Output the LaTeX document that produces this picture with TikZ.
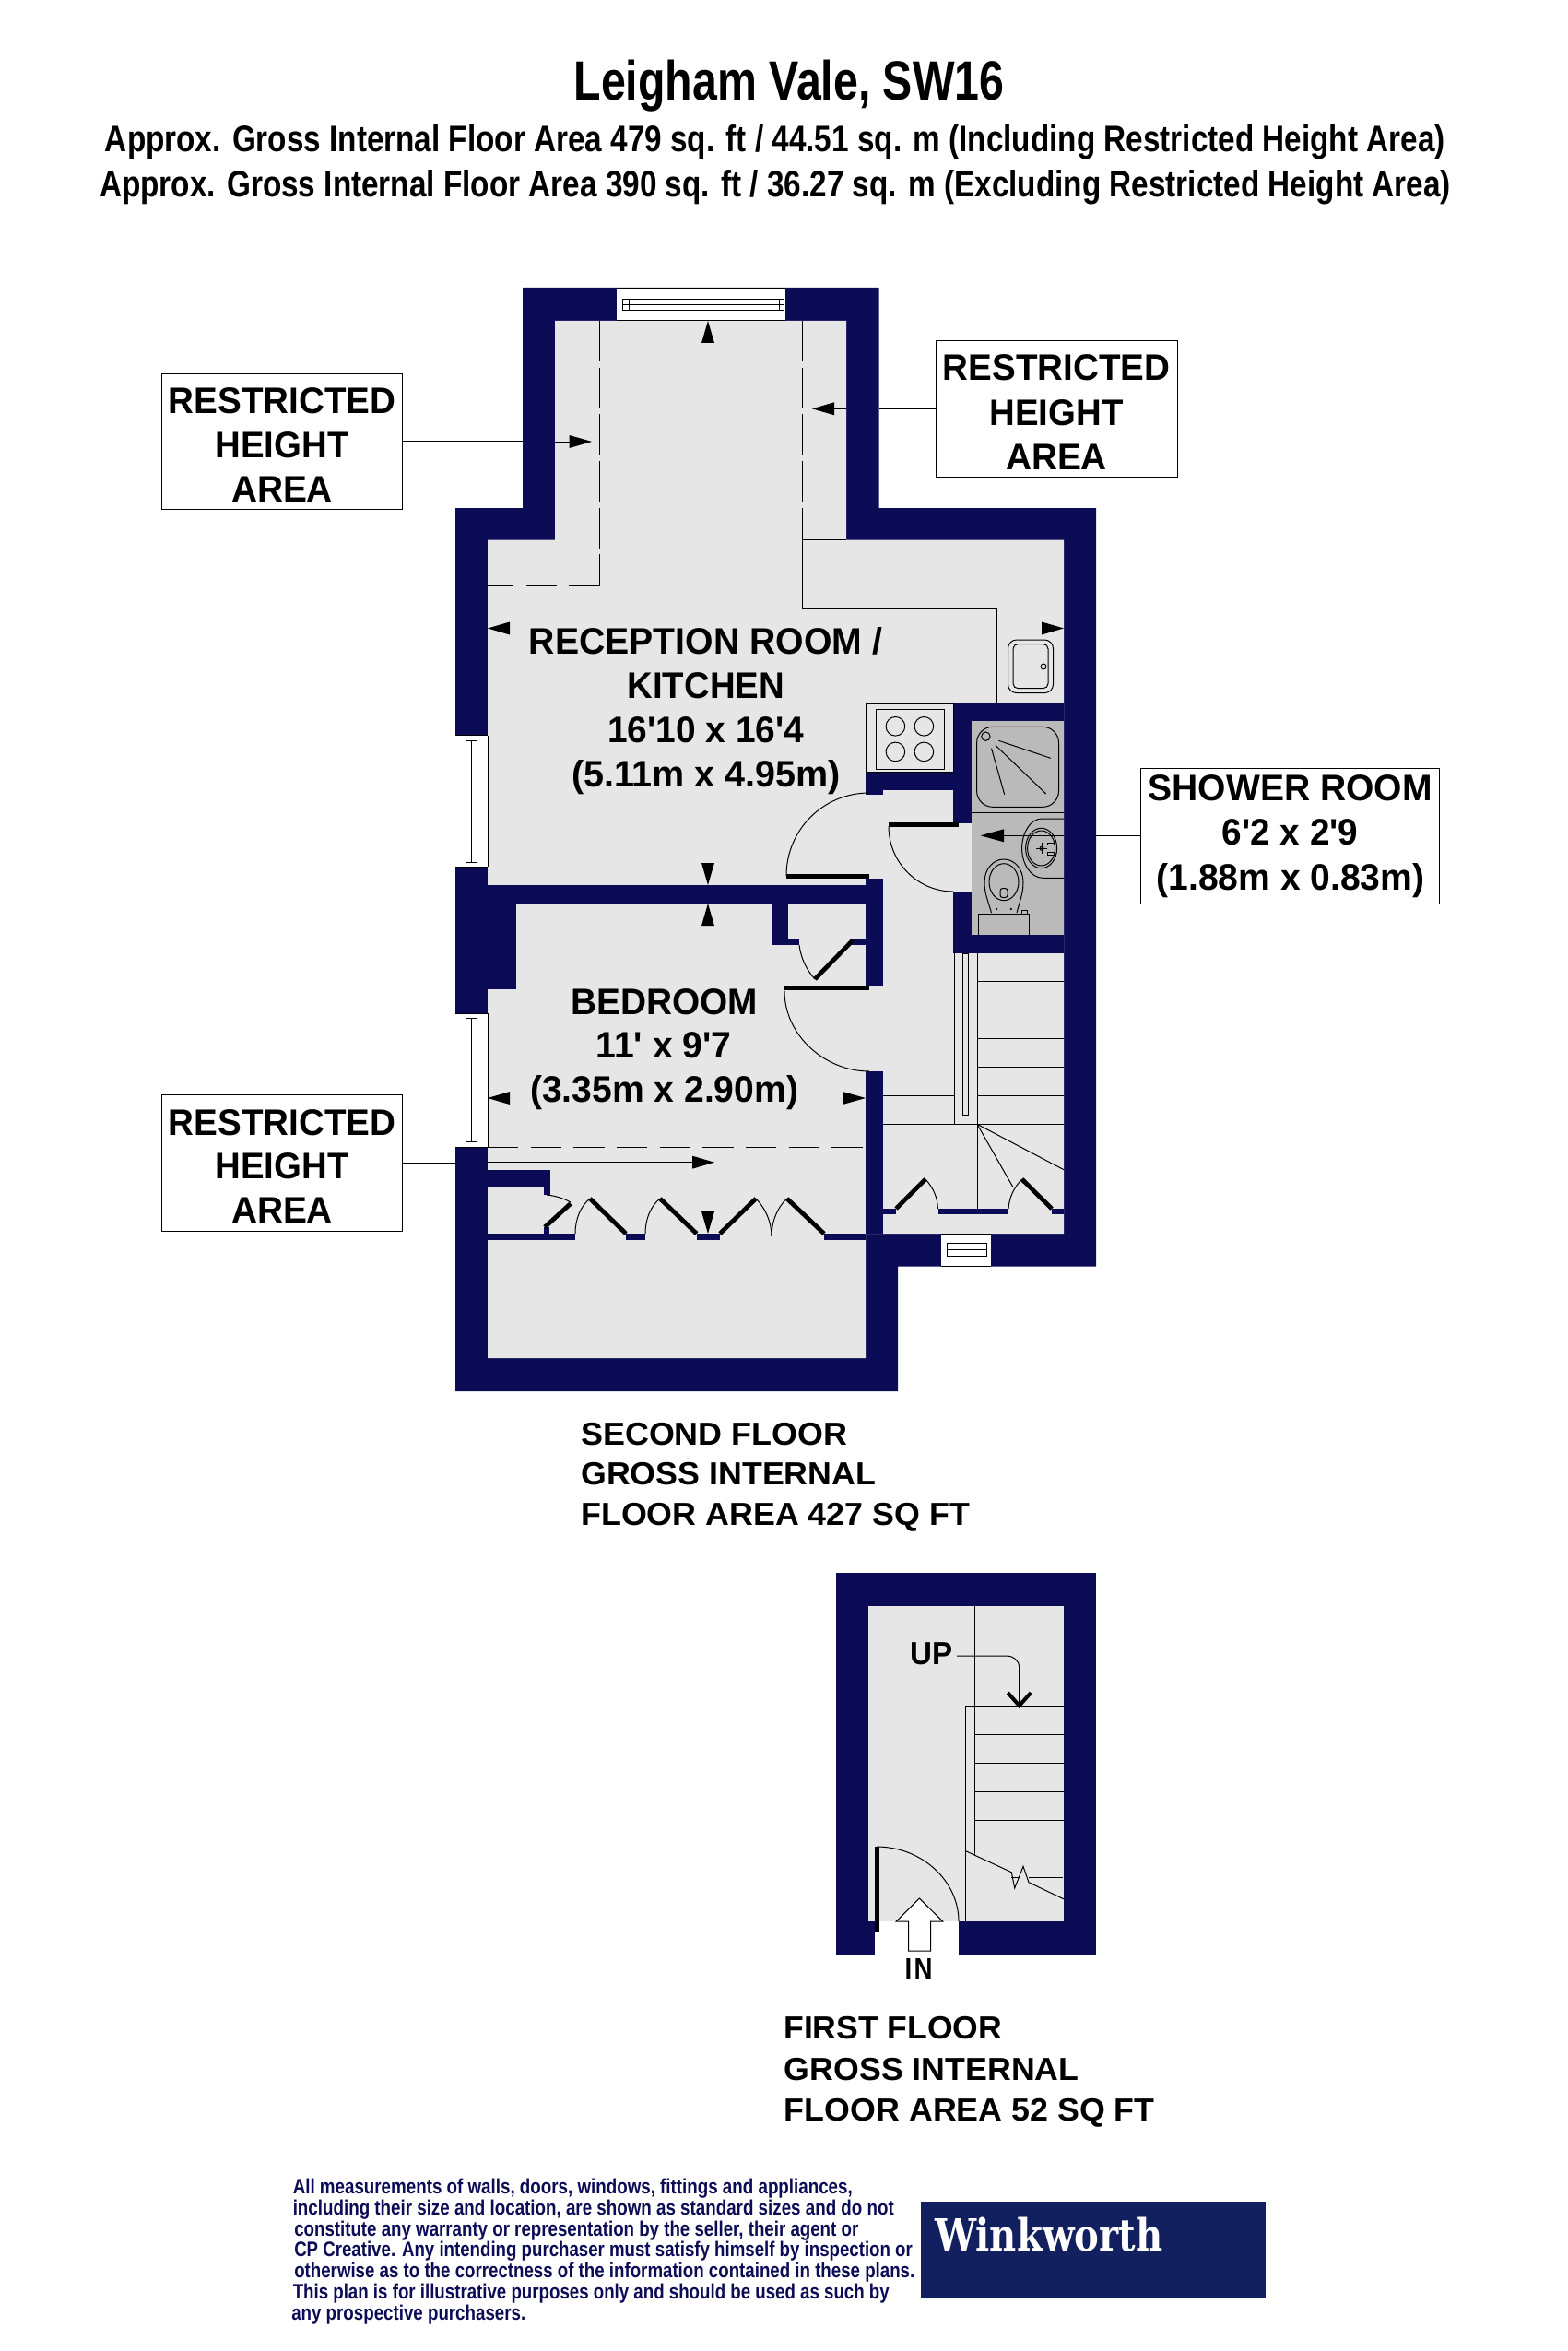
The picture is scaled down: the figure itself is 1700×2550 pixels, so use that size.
\documentclass[tikz,border=0pt]{standalone}
\usepackage{fontspec}
\setmainfont{Liberation Sans}
\newfontfamily\logofont{DejaVu Serif}
\definecolor{wall}{HTML}{0C0C56}
\definecolor{room}{HTML}{E6E6E6}
\definecolor{wet}{HTML}{BABABA}
\definecolor{logobg}{HTML}{12205F}
\newdimen\pxu \pxu=.75pt
\newsavebox\fitsbox
\newcommand{\fitw}[2]{\sbox\fitsbox{#2}\resizebox{#1\pxu}{\ht\fitsbox}{\usebox\fitsbox}}
\newcommand{\qq}{\textquotesingle}
\tikzset{
  thin line/.style={draw=black,line width=0.75pt},
  win line/.style={draw=black,line width=0.5pt},
  thick door/.style={draw=black,line width=3.6pt},
  vdash/.style={draw=black,line width=0.7pt,dash pattern=on 33pt off 5pt},
  hdash/.style={draw=black,line width=0.7pt,dash pattern=on 25pt off 10pt},
  walls/.style={fill=wall},
  txt/.style={inner sep=0pt,anchor=base,font=\bfseries\fontsize{30}{30}\selectfont},
  ltxt/.style={inner sep=0pt,anchor=base west,font=\bfseries\fontsize{26}{26}\selectfont},
  head/.style={inner sep=0pt,anchor=base,font=\bfseries\fontsize{30}{30}\selectfont},
  fine/.style={inner sep=0pt,anchor=base west,text=wall,font=\bfseries\fontsize{17}{17}\selectfont},
  lblbox/.style={draw=black,line width=0.75pt,inner sep=0pt,minimum width=196.2pt,minimum height=110.6pt},
}
\begin{document}
\begin{tikzpicture}[x=0.75pt,y=-0.75pt]
\useasboundingbox (0,0) rectangle (1700,2550);
% ---- titles
\node[inner sep=0pt,anchor=base,font=\bfseries\fontsize{45}{45}\selectfont] (title) at (856,108.3) {\fitw{467}{Leigham Vale, SW16}};
\node[head] (sub1) at (840.8,165) {\fitw{1453.6}{Approx. Gross Internal Floor Area 479 sq. ft / 44.51 sq. m (Including Restricted Height Area)}};
\node[head] (sub2) at (841,214) {\fitw{1465.7}{Approx. Gross Internal Floor Area 390 sq. ft / 36.27 sq. m (Excluding Restricted Height Area)}};
% ---- second floor shell
\fill[walls] (567,312) -- (953.5,312) -- (953.5,551) -- (1189,551) -- (1189,1373.5) -- (974,1373.5) -- (974,1509) -- (494,1509) -- (494,551) -- (567,551) -- cycle;
\fill[room] (602,348) -- (918,348) -- (918,585.5) -- (1154,585.5) -- (1154,1338) -- (939,1338) -- (939,1473) -- (529,1473) -- (529,585.5) -- (602,585.5) -- cycle;
% ---- inner walls
\fill[walls] (529,959.5) rectangle (958,980);
\fill[walls] (529,980) rectangle (560,1073.4);
\fill[walls] (939,953) rectangle (958,1069.5);
\fill[walls] (939,1162) rectangle (958,1338);
\fill[walls] (836.6,980) rectangle (855,1025);
\fill[walls] (836.6,1018) rectangle (867,1025);
\fill[walls] (924,1018) rectangle (939,1025);
\fill[walls] (939,837) rectangle (1034,857);
\fill[walls] (939,857) rectangle (958,862);
\fill[walls] (1034,763) rectangle (1154,782);
\fill[walls] (1034,763) rectangle (1053.5,893);
\fill[walls] (1034,967) rectangle (1053.5,1034);
\fill[walls] (1034,1014) rectangle (1154,1034);
\fill[wet] (1053.5,782) rectangle (1154,1014);
% wardrobe partition
\fill[walls] (529,1338) rectangle (624,1345);
\fill[walls] (679,1338) rectangle (700,1345);
\fill[walls] (755.7,1338) rectangle (781,1345);
\fill[walls] (894,1338) rectangle (939,1345);
\fill[walls] (529,1269) rectangle (597,1288);
\fill[walls] (590,1288) rectangle (597,1296);
\fill[walls] (590,1331) rectangle (596,1338);
% landing cupboards
\fill[walls] (958,1311) rectangle (972,1316.6);
\fill[walls] (1018.4,1311) rectangle (1094,1316.6);
\fill[walls] (1141,1311) rectangle (1154,1316.6);
% ---- windows
\fill[white] (669,312) rectangle (852,347);
\draw[win line] (669,312) -- (852,312) (669,347) -- (852,347);
\draw[win line] (675,324) rectangle (850,336.5) (675,330) -- (850,330) (682,324) -- (682,336.5) (845,324) -- (845,336.5);
\fill[white] (494,797.6) rectangle (529,940);
\draw[win line] (494,797.6) -- (529,797.6) (494,940) -- (529,940) (529,797.6) -- (529,940);
\draw[win line] (505,803.4) rectangle (517,935) (511,803.4) -- (511,935);
\fill[white] (494,1099) rectangle (529,1244);
\draw[win line] (494,1099) -- (529,1099) (494,1244) -- (529,1244) (529,1099) -- (529,1244);
\draw[win line] (505,1104.6) rectangle (517,1238) (511,1104.6) -- (511,1238);
\fill[white] (1021,1338) rectangle (1075,1373.5);
\draw[win line] (1021,1338) -- (1075,1338) (1021,1373.5) -- (1075,1373.5);
\draw[win line] (1027,1348) rectangle (1070,1362) (1027,1355) -- (1070,1355);
% ---- restricted height dashes
\draw[vdash] (650.5,348) -- (650.5,635.5);
\draw[hdash] (650.5,635.5) -- (529,635.5);
\draw[vdash] (870,348) -- (870,585.5);
\draw[hdash] (529,1244) -- (939,1244);
% ---- kitchen line and units
\draw[thin line] (918,585.5) -- (870,585.5) -- (870,660.5) -- (1081.4,660.5) -- (1081.4,763);
\draw[thin line] (939.4,763) rectangle (1034,837);
\draw[thin line] (950.5,769.5) rectangle (1024,834.6);
\foreach \hx in {971.4,1002.4}{\foreach \hy in {787.8,815.4}{\draw[thin line] (\hx,\hy) circle[radius=10.3];}}
\draw[thin line,rounded corners=7pt] (1093.5,694) rectangle (1142.5,751.6);
\draw[thin line,rounded corners=4pt] (1099,698.5) rectangle (1137,746.7);
\draw[thin line] (1132,723) circle[radius=3];
% ---- shower room fixtures
\draw[thin line,rounded corners=13pt] (1059.6,788.3) rectangle (1148.5,875.3);
\draw[thin line] (1069.4,798.7) circle[radius=4.7];
\draw[thin line] (1083.3,803.3) -- (1139.7,822.3) (1079.9,808.3) -- (1134.7,861) (1075.5,811.7) -- (1089.7,861.7);
\draw[thin line] (1053.5,881) -- (1154,881);
\draw[thin line] (1154,888) -- (1130,888) .. controls (1118,888) and (1108.6,903) .. (1108.6,920) .. controls (1108.6,937) and (1118,952) .. (1131,952.3) -- (1154,952.3);
\draw[thin line] (1129.6,920) ellipse[x radius=17,y radius=21.7];
\draw[thin line] (1129.6,920) ellipse[x radius=15,y radius=19];
\draw[thin line] (1124,920.3) -- (1136,920.3) (1130,914) -- (1130,926);
\draw[thin line] (1130,920.3) circle[radius=2];
\draw[thin line] (1136.3,914) rectangle (1143,916.7) (1136.3,924.7) rectangle (1143,927.3);
\draw[thin line] (1075.5,990) .. controls (1071,975) and (1068,968) .. (1068,957) .. controls (1068,943) and (1077,932) .. (1089,932) .. controls (1101,932) and (1110,943) .. (1110,957) .. controls (1110,968) and (1107,975) .. (1103,990);
\draw[thin line] (1089,956.7) ellipse[x radius=16,y radius=20];
\draw[thin line,rounded corners=2pt] (1085,963.5) rectangle (1093,973.5);
\draw[thin line] (1061.3,1014) -- (1061.3,991) -- (1116.7,991) -- (1116.7,1014);
\fill (1081.2,986) circle[radius=1.2] (1096.8,986) circle[radius=1.2];
\draw[thin line] (1108,987) rectangle (1114,991);
% ---- doors
\draw[thin line] (943,860) .. controls (893,860) and (853,900) .. (853,950);
\draw[thick door] (852.6,950.7) -- (943,950.7);
\draw[thin line] (964,896) .. controls (964,936) and (996,967) .. (1034,967);
\draw[thick door] (964,894.5) -- (1040,894.5);
\draw[thin line] (851,1075) .. controls (851,1123) and (895,1162) .. (943,1162);
\draw[thick door] (851,1072) -- (943,1072);
\draw[thin line] (867,1025) .. controls (869,1040) and (875,1052) .. (884,1062);
\draw[thick door] (925,1020) -- (884,1062);
% wardrobe doors
\draw[thick door] (679,1338) -- (640,1300);
\draw[thin line] (640,1300) .. controls (630,1308) and (624,1322) .. (624,1338);
\draw[thick door] (755.7,1338) -- (716,1300);
\draw[thin line] (716,1300) .. controls (706,1308) and (700,1322) .. (700,1338);
\draw[thick door] (781,1338) -- (820,1300);
\draw[thin line] (820,1300) .. controls (830,1310) and (837,1325) .. (837,1341);
\draw[thick door] (894,1338) -- (853.6,1300);
\draw[thin line] (853.6,1300) .. controls (843,1310) and (837,1325) .. (837,1341);
\draw[thick door] (591,1331) -- (619,1305.5);
\draw[thin line] (593,1296) .. controls (603,1297) and (612,1300) .. (619,1304);
% landing
\draw[thick door] (972,1311) -- (1004,1279);
\draw[thin line] (1004,1279) .. controls (1012,1288) and (1017,1298) .. (1017.4,1311);
\draw[thick door] (1141,1311) -- (1108.6,1279);
\draw[thin line] (1108.6,1279) .. controls (1100,1288) and (1095,1298) .. (1094,1311);
% ---- stairs second floor
\draw[thin line] (1035,1034) -- (1035,1219) (1060,1034) -- (1060,1311);
\draw[thin line] (1044.6,1034) rectangle (1050.5,1209.5);
\foreach \ty in {1064.7,1095.6,1126.4,1157,1188.5}{\draw[thin line] (1060,\ty) -- (1154,\ty);}
\draw[thin line] (958,1188.5) -- (1035,1188.5);
\draw[thin line] (958,1219.3) -- (1154,1219.3);
\draw[thin line] (1060,1219.3) -- (1154,1268.7) (1060,1219.3) -- (1099,1287.7);
% ---- dimension arrows
\foreach \ax/\ay/\bx/\by/\wx/\wy in {768/348/768/372/7/0,768/960/768/936/7/0,768/980/768/1004/7/0,768/1338/768/1314/7/0,
  529/681.5/553/681.5/0/7,1154/681.5/1130/681.5/0/7,529/1191/553/1191/0/7,939/1191/914/1191/0/7,
  642/479/617.5/479/0/7,881/443.3/905/443.3/0/7,1063.7/906.3/1089/906.3/0/7,775/1260.7/751/1260.7/0/7}{
  \fill[black] (\ax,\ay) -- (\bx+\wx,\by+\wy) -- (\bx-\wx,\by-\wy) -- cycle;}
% ---- labels
\node[lblbox] (boxA) at (306,478.8) {};
\node[lblbox] (boxB) at (1146.3,443.3) {};
\node[lblbox] (boxC) at (306,1261.3) {};
\node[lblbox,minimum width=243.2pt] (boxD) at (1399.5,906.8) {};
\coordinate (wallA) at (567,478.8);
\coordinate (innerA) at (602,479);
\coordinate (tipA) at (617.5,479);
\coordinate (wallB) at (953.5,443.3);
\coordinate (innerB) at (918,443.3);
\coordinate (tipB) at (905,443.3);
\coordinate (wallC) at (494,1261.3);
\coordinate (innerC) at (529,1260.7);
\coordinate (tipC) at (751,1260.7);
\coordinate (wallD) at (1189,906.8);
\coordinate (innerD) at (1154,906.3);
\coordinate (tipD) at (1089,906.3);
\draw[thin line] (boxA.east) -- (wallA) (innerA) -- (tipA);
\draw[thin line] (boxB.west) -- (wallB) (innerB) -- (tipB);
\draw[thin line] (boxC.east) -- (wallC) (innerC) -- (tipC);
\draw[thin line] (boxD.west) -- (wallD) (innerD) -- (tipD);
\node[txt] (a1) at (306,449) {\fitw{246.6}{RESTRICTED}};
\node[txt] (a2) at (306,496.7) {\fitw{145}{HEIGHT}};
\node[txt] (a3) at (306,544) {\fitw{110}{AREA}};
\node[txt] (b1) at (1146,412.7) {\fitw{246.6}{RESTRICTED}};
\node[txt] (b2) at (1146,461) {\fitw{145}{HEIGHT}};
\node[txt] (b3) at (1146,509) {\fitw{110}{AREA}};
\node[txt] (c1) at (306,1231) {\fitw{246.6}{RESTRICTED}};
\node[txt] (c2) at (306,1278.7) {\fitw{145}{HEIGHT}};
\node[txt] (c3) at (306,1326.7) {\fitw{110}{AREA}};
\node[txt] (d1) at (1399.7,868.3) {\fitw{308}{SHOWER ROOM}};
\node[txt] (d2) at (1399.5,916.7) {\fitw{147.7}{6\qq2 x 2\qq9}};
\node[txt] (d3) at (1400,965) {\fitw{291}{(1.88m x 0.83m)}};
\node[txt] (r1) at (765.4,709.6) {\fitw{383}{RECEPTION ROOM /}};
\node[txt] (r2) at (765.8,757.4) {\fitw{170.6}{KITCHEN}};
\node[txt] (r3) at (765.7,805.6) {\fitw{213}{16\qq10 x 16\qq4}};
\node[txt] (r4) at (766,853.4) {\fitw{292}{(5.11m x 4.95m)}};
\node[txt] (s1) at (721,1100.7) {\fitw{202.6}{BEDROOM}};
\node[txt] (s2) at (720,1147.4) {\fitw{147}{11\qq\ x 9\qq7}};
\node[txt] (s3) at (720.7,1195.6) {\fitw{291}{(3.35m x 2.90m)}};
\node[ltxt] (f1) at (630,1567.3) {\fitw{289}{SECOND FLOOR}};
\node[ltxt] (f2) at (630,1610.7) {\fitw{320}{GROSS INTERNAL}};
\node[ltxt] (f3) at (630,1654.3) {\fitw{421.7}{FLOOR AREA 427 SQ FT}};
% ---- first floor
\fill[walls] (907,1706) rectangle (1189,2120);
\fill[room] (942,1742) rectangle (1154.3,2084);
\fill[white] (949,2084) rectangle (1040,2121);
\draw[thin line] (951,2003) .. controls (1000,2003) and (1040,2040) .. (1040,2084);
\draw[draw=black,line width=3.6pt] (951.3,2002.7) -- (951.3,2095.7);
\draw[thin line,fill=white] (997.3,2059) -- (1022.7,2084) -- (1009.7,2084) -- (1009.7,2116) -- (985.7,2116) -- (985.7,2084) -- (972.3,2084) -- cycle;
\draw[thin line] (1057.7,1742) -- (1057.7,2011.7) (1047.7,1850) -- (1047.7,2084) (1047.7,1850) -- (1154.3,1850);
\foreach \ty in {1881.3,1912.3,1943.3,1974.3,2005.3}{\draw[thin line] (1057.7,\ty) -- (1154.3,\ty);}
\draw[thin line] (1047.7,2007.7) -- (1097.3,2030.7) -- (1100.7,2048) -- (1110,2024.3) -- (1116,2041.7) -- (1154.3,2060);
\draw[thin line] (1097.3,2036) -- (1105.7,2036) (1116,2036) -- (1152.7,2036);
\node[ltxt,anchor=base] (up) at (1010.3,1805) {\fitw{46}{UP}};
\node[ltxt,anchor=base,font=\bfseries\fontsize{24}{24}\selectfont] (in) at (996.7,2146) {\fitw{30}{I\kern2pt N}};
\coordinate (upstart) at (1038,1796);
\coordinate (upend) at (1105.7,1850);
\draw[thin line] (upstart) -- (1091.7,1796) .. controls (1100,1796) and (1105.7,1802) .. (1105.7,1808) -- (upend);
\draw[black,line width=3pt] (1093.3,1836) -- (upend) -- (1118.3,1836);
\node[ltxt] (g1) at (850,2211.7) {\fitw{237}{FIRST FLOOR}};
\node[ltxt] (g2) at (850.7,2256) {\fitw{319.5}{GROSS INTERNAL}};
\node[ltxt] (g3) at (850.7,2300) {\fitw{401.7}{FLOOR AREA 52 SQ FT}};
% ---- disclaimer and logo
\node[fine] (n1) at (317.5,2379.3) {\fitw{607}{All measurements of walls, doors, windows, fittings and appliances,}};
\node[fine] (n2) at (317.5,2402.3) {\fitw{652}{including their size and location, are shown as standard sizes and do not}};
\node[fine] (n3) at (319,2425) {\fitw{612}{constitute any warranty or representation by the seller, their agent or}};
\node[fine] (n4) at (319,2447.7) {\fitw{670.6}{CP Creative. Any intending purchaser must satisfy himself by inspection or}};
\node[fine] (n5) at (319,2470.7) {\fitw{673}{otherwise as to the correctness of the information contained in these plans.}};
\node[fine] (n6) at (317.5,2493.3) {\fitw{647}{This plan is for illustrative purposes only and should be used as such by}};
\node[fine] (n7) at (316,2516) {\fitw{254}{any prospective purchasers.}};
\fill[logobg] (998.7,2387.7) rectangle (1373.3,2491.7);
\node[inner sep=0pt,anchor=base west,text=white,font=\logofont\bfseries\fontsize{36}{36}\selectfont] (logo) at (1014,2441) {\fitw{247}{Winkworth}};
\end{tikzpicture}
\end{document}
